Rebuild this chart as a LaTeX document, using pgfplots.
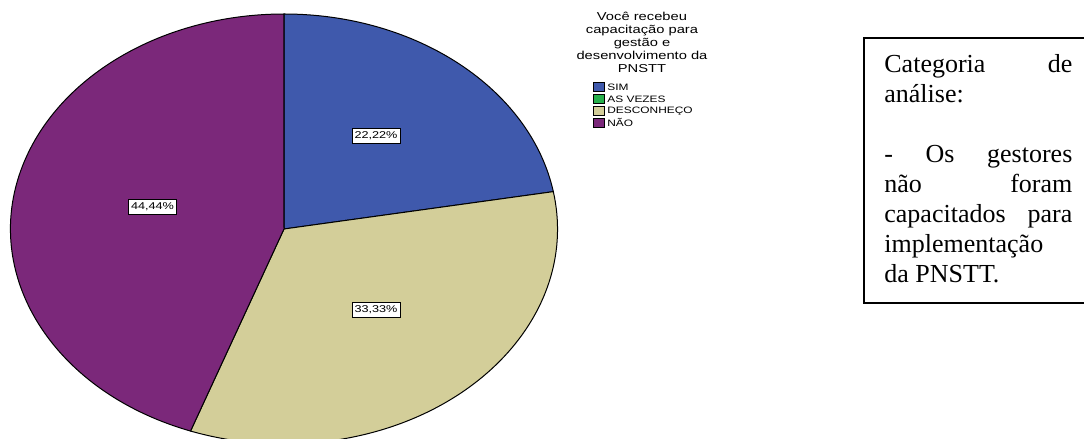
\documentclass[border=0pt]{standalone}
\usepackage{pgfplots}
\pgfplotsset{compat=1.18}
\usepackage{pgfplotstable}
\usepackage{fontspec}
\setmainfont{Liberation Serif}
\newfontfamily\arial{Liberation Sans}
\definecolor{csim}{HTML}{3F59AC}
\definecolor{cas}{HTML}{27B04C}
\definecolor{cdes}{HTML}{D3CE99}
\definecolor{cnao}{HTML}{7B287A}

\pgfplotstableread{
categoria valor
SIM 22.22
ASVEZES 0
DESCONHECO 33.33
NAO 44.44
}\piedata

\pgfplotstablegetelem{0}{valor}\of\piedata \let\vA\pgfplotsretval
\pgfplotstablegetelem{1}{valor}\of\piedata \let\vB\pgfplotsretval
\pgfplotstablegetelem{2}{valor}\of\piedata \let\vC\pgfplotsretval
\pgfplotstablegetelem{3}{valor}\of\piedata \let\vD\pgfplotsretval
\pgfmathsetmacro\aA{90}
\pgfmathsetmacro\aB{\aA-3.6*\vA}
\pgfmathsetmacro\aC{\aB-3.6*\vB}
\pgfmathsetmacro\aD{\aC-3.6*\vC}
\pgfmathsetmacro\aE{\aD-3.6*\vD}

\newcommand\sx[1]{\scalebox{1.28}[1]{#1}}
\newcommand\tfont{\arial\fontsize{5.75pt}{6.5pt}\selectfont}
\newcommand\lfont{\arial\fontsize{4.65pt}{5.5pt}\selectfont}
\newcommand\pfont{\arial\fontsize{4.95pt}{6pt}\selectfont}

\begin{document}
\begin{tikzpicture}[x=0.5pt,y=0.5pt]
\begin{axis}[at={(0,0)}, anchor=origin, scale only axis,
  width=542pt, height=219.5pt,
  xmin=0, xmax=1084, ymin=0, ymax=439,
  hide axis, clip=false]
% pie slices (centre at 284,210; radii 273.5 x 215 px)
\filldraw[fill=csim, draw=black, line width=0.5pt] (axis cs:284,210) -- ++(\aA:136.75pt and 107.5pt)
  arc[start angle=\aA, end angle=\aB, x radius=136.75pt, y radius=107.5pt] -- cycle;
\filldraw[fill=cdes, draw=black, line width=0.5pt] (axis cs:284,210) -- ++(\aC:136.75pt and 107.5pt)
  arc[start angle=\aC, end angle=\aD, x radius=136.75pt, y radius=107.5pt] -- cycle;
\filldraw[fill=cnao, draw=black, line width=0.5pt] (axis cs:284,210) -- ++(\aD:136.75pt and 107.5pt)
  arc[start angle=\aD, end angle=\aE, x radius=136.75pt, y radius=107.5pt] -- cycle;
% percentage labels
\node[draw=black, fill=white, line width=0.4pt, inner sep=0pt, minimum width=24pt, minimum height=7.5pt] at (axis cs:376,303) {\sx{\pfont 22,22\%}};
\node[draw=black, fill=white, line width=0.4pt, inner sep=0pt, minimum width=24pt, minimum height=7.5pt] at (axis cs:376,129) {\sx{\pfont 33,33\%}};
\node[draw=black, fill=white, line width=0.4pt, inner sep=0pt, minimum width=24pt, minimum height=7.5pt] at (axis cs:152.5,232.5) {\sx{\pfont 44,44\%}};
\end{axis}
% legend title
\node[anchor=base, inner sep=0pt] at (642,418.2) {\sx{\tfont Você recebeu}};
\node[anchor=base, inner sep=0pt] at (642,405.3) {\sx{\tfont capacitação para}};
\node[anchor=base, inner sep=0pt] at (642,392.4) {\sx{\tfont gestão e}};
\node[anchor=base, inner sep=0pt] at (642,379.5) {\sx{\tfont desenvolvimento da}};
\node[anchor=base, inner sep=0pt] at (642,366.6) {\sx{\tfont PNSTT}};
% legend entries
\filldraw[fill=csim, draw=black, line width=0.4pt] (593,347.2) rectangle (604,356.2);
\filldraw[fill=cas, draw=black, line width=0.4pt] (593,335.5) rectangle (604,344.5);
\filldraw[fill=cdes, draw=black, line width=0.4pt] (593,323.8) rectangle (604,332.8);
\filldraw[fill=cnao, draw=black, line width=0.4pt] (593,311.2) rectangle (604,320.2);
\node[anchor=base west, inner sep=0pt] at (607,348.4) {\sx{\lfont SIM}};
\node[anchor=base west, inner sep=0pt] at (607,336.7) {\sx{\lfont AS VEZES}};
\node[anchor=base west, inner sep=0pt] at (607,325.0) {\sx{\lfont DESCONHEÇO}};
\node[anchor=base west, inner sep=0pt] at (607,312.4) {\sx{\lfont NÃO}};
% text box
\draw[line width=1pt] (864,401) rectangle (1100,136);
\node[anchor=base west, inner sep=0pt] at (884,366) {\parbox[t]{94pt}{\fontsize{13pt}{15pt}\selectfont
Categoria\hfill de\\
análise:\\[15pt]
-\hfill Os\hfill gestores\\
não\hfill foram\\
capacitados\hfill para\\
implementação\\
da PNSTT.}};
\pgfresetboundingbox
\path[use as bounding box] (0,0) rectangle (1084,439);
\end{tikzpicture}
\end{document}
